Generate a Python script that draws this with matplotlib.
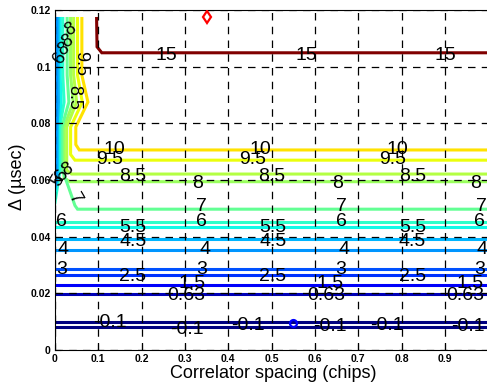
import matplotlib
matplotlib.use('Agg')
import matplotlib.pyplot as plt
from matplotlib.colors import Normalize

# contour levels with the paths (x = spacing, y = delta)
levels = [15, 10, 9.5, 8.5, 8, 7, 6, 5.5, 4.5, 4, 3, 2.5, 1.5, 0.63, -0.1, -0.1]
path_x = [
    [0.096, 0.097, 0.108, 1.0],
    [0.062, 0.062, 0.076, 0.048, 0.048, 0.056, 1.0],
    [0.052, 0.052, 0.063, 0.036, 0.036, 0.046, 1.0],
    [0.043, 0.043, 0.050, 0.027, 0.027, 0.038, 1.0],
    [0.036, 0.036, 0.042, 0.021, 0.021, 0.034, 1.0],
    [0.028, 0.028, 0.032, 0.016, 0.016, 0.030, 0.046, 0.052, 1.0],
    [0.0, 1.0], [0.0, 1.0], [0.0, 1.0], [0.0, 1.0], [0.0, 1.0],
    [0.0, 1.0], [0.0, 1.0], [0.0, 1.0], [0.0, 1.0], [0.0, 1.0],
]
path_y = [
    [0.117, 0.107, 0.1049, 0.1049],
    [0.117, 0.097, 0.0875, 0.0787, 0.0725, 0.0706, 0.0706],
    [0.117, 0.097, 0.0875, 0.0787, 0.0690, 0.0670, 0.0670],
    [0.117, 0.097, 0.0875, 0.0787, 0.0635, 0.0621, 0.0621],
    [0.117, 0.097, 0.0875, 0.0787, 0.0608, 0.0594, 0.0594],
    [0.117, 0.097, 0.0875, 0.0787, 0.0640, 0.0580, 0.0510, 0.0497, 0.0497],
    [0.0453, 0.0453], [0.0435, 0.0435], [0.0391, 0.0391], [0.0353, 0.0353],
    [0.0285, 0.0285], [0.0265, 0.0265], [0.0228, 0.0228], [0.0197, 0.0197],
    [0.0100, 0.0100], [0.0082, 0.0082],
]

# lower levels that also run up the left edge
band_levels = [6, 5.5, 4.5, 4]
band_x = [
    [0.018, 0.018, 0.021, 0.011, 0.011, 0.0],
    [0.012, 0.012, 0.014, 0.008, 0.008, 0.0],
    [0.007, 0.007, 0.008, 0.005, 0.005, 0.0],
    [0.003, 0.003, 0.004, 0.002, 0.002, 0.0],
]
band_y = [
    [0.117, 0.097, 0.0875, 0.0787, 0.063, 0.052],
    [0.117, 0.097, 0.0875, 0.0787, 0.062, 0.055],
    [0.117, 0.097, 0.0875, 0.0787, 0.061, 0.057],
    [0.117, 0.097, 0.0875, 0.0787, 0.060, 0.058],
]

# contour labels
label_text = ['15', '15', '15',
              '10', '10', '10', '9.5', '9.5', '9.5',
              '8.5', '8.5', '8.5', '8', '8', '8',
              '7', '7', '7', '6', '6', '6', '6',
              '5.5', '5.5', '5.5', '4.5', '4.5', '4.5',
              '4', '4', '4', '4', '3', '3', '3', '3',
              '2.5', '2.5', '2.5', '1.5', '1.5', '1.5',
              '0.63', '0.63', '0.63',
              '-0.1', '-0.1', '-0.1', '-0.1', '-0.1', '-0.1']
label_x = [0.256, 0.58, 0.90,
           0.138, 0.473, 0.79, 0.127, 0.457, 0.78,
           0.18, 0.50, 0.825, 0.328, 0.651, 0.97,
           0.339, 0.66, 0.985, 0.016, 0.339, 0.66, 0.98,
           0.18, 0.503, 0.825, 0.18, 0.503, 0.825,
           0.019, 0.346, 0.668, 0.985, 0.016, 0.339, 0.66, 0.98,
           0.18, 0.503, 0.825, 0.316, 0.635, 0.958,
           0.304, 0.627, 0.947,
           0.127, 0.304, 0.446, 0.635, 0.766, 0.954]
label_y = [0.1041, 0.1041, 0.1041,
           0.0706, 0.0706, 0.0706, 0.0671, 0.0671, 0.0671,
           0.0614, 0.0614, 0.0614, 0.0589, 0.0589, 0.0589,
           0.0506, 0.0506, 0.0506, 0.0453, 0.0453, 0.0453, 0.0453,
           0.0432, 0.0432, 0.0432, 0.0382, 0.0382, 0.0382,
           0.0353, 0.0353, 0.0353, 0.0353, 0.0284, 0.0284, 0.0284, 0.0284,
           0.0259, 0.0259, 0.0259, 0.0233, 0.0233, 0.0233,
           0.0194, 0.0194, 0.0194,
           0.0096, 0.0071, 0.0088, 0.0082, 0.0088, 0.0082]

# rotated labels crowded on the left edge
side_text = ['8', '8', '8', '6', '9.5', '8.5', '8', '6', '5', '7']
side_x = [0.036, 0.028, 0.020, 0.012, 0.058, 0.044, 0.028, 0.016, 0.006, 0.046]
side_y = [0.113, 0.109, 0.106, 0.103, 0.101, 0.089, 0.0635, 0.0615, 0.060, 0.0535]
side_rot = [30, 30, 30, 60, -90, -90, 30, 60, 60, -60]

best_x, best_y = [0.35], [0.1174]
opt_x, opt_y = [0.55], [0.0096]

fig = plt.figure(figsize=(4.87, 3.92), dpi=100)
ax = fig.add_axes([55 / 487, 1 - 350 / 392, 433.3 / 487, 340 / 392])

cmap = plt.get_cmap('jet')
norm = Normalize(-0.1, 15)

for lev, xs, ys in zip(levels, path_x, path_y):
    ax.plot(xs, ys, color=cmap(norm(lev)), lw=2.2, solid_joinstyle='miter')
for lev, xs, ys in zip(band_levels, band_x, band_y):
    ax.plot(xs, ys, color=cmap(norm(lev)), lw=2.2)

for t, x, y in zip(label_text, label_x, label_y):
    ax.text(x, y, t, fontsize=14, family='Liberation Sans', ha='center', va='center', zorder=4)
for t, x, y, r in zip(side_text, side_x, side_y, side_rot):
    ax.text(x, y, t, fontsize=13, family='Liberation Sans', ha='center', va='center',
            rotation=r, zorder=4)

ax.plot(best_x, best_y, 'd', color='red', mfc='none', mew=1.6, ms=6, zorder=5)
ax.plot(opt_x, opt_y, 'o', color='blue', mfc='none', mew=1.6, ms=5, zorder=5)

ax.set_xlim(0, 1)
ax.set_ylim(0, 0.12)
ax.set_xticks([0, 0.1, 0.2, 0.3, 0.4, 0.5, 0.6, 0.7, 0.8, 0.9])
ax.set_xticklabels(['0', '0.1', '0.2', '0.3', '0.4', '0.5', '0.6', '0.7', '0.8', '0.9'])
ax.set_yticks([0, 0.02, 0.04, 0.06, 0.08, 0.1, 0.12])
ax.set_yticklabels(['0', '0.02', '0.04', '0.06', '0.08', '0.1', '0.12'])
ax.tick_params(direction='in', length=4, width=0.8, pad=3)
for lbl in ax.get_xticklabels() + ax.get_yticklabels():
    lbl.set_fontsize(7.5)
    lbl.set_fontweight('bold')
    lbl.set_family('Liberation Sans')

ax.grid(True, color='k', linestyle=(0, (6, 5)), linewidth=0.9)
ax.set_axisbelow(False)
ax.spines['right'].set_visible(False)

ax.set_xlabel('Correlator spacing (chips)', fontsize=13, family='Liberation Sans')
ax.set_ylabel('\u0394 (\u00b5sec)', fontsize=13, family='Liberation Sans')
ax.xaxis.set_label_coords(0.503, -0.045)
ax.yaxis.set_label_coords(-0.068, 0.51)

fig.savefig('out.png', dpi=100)
